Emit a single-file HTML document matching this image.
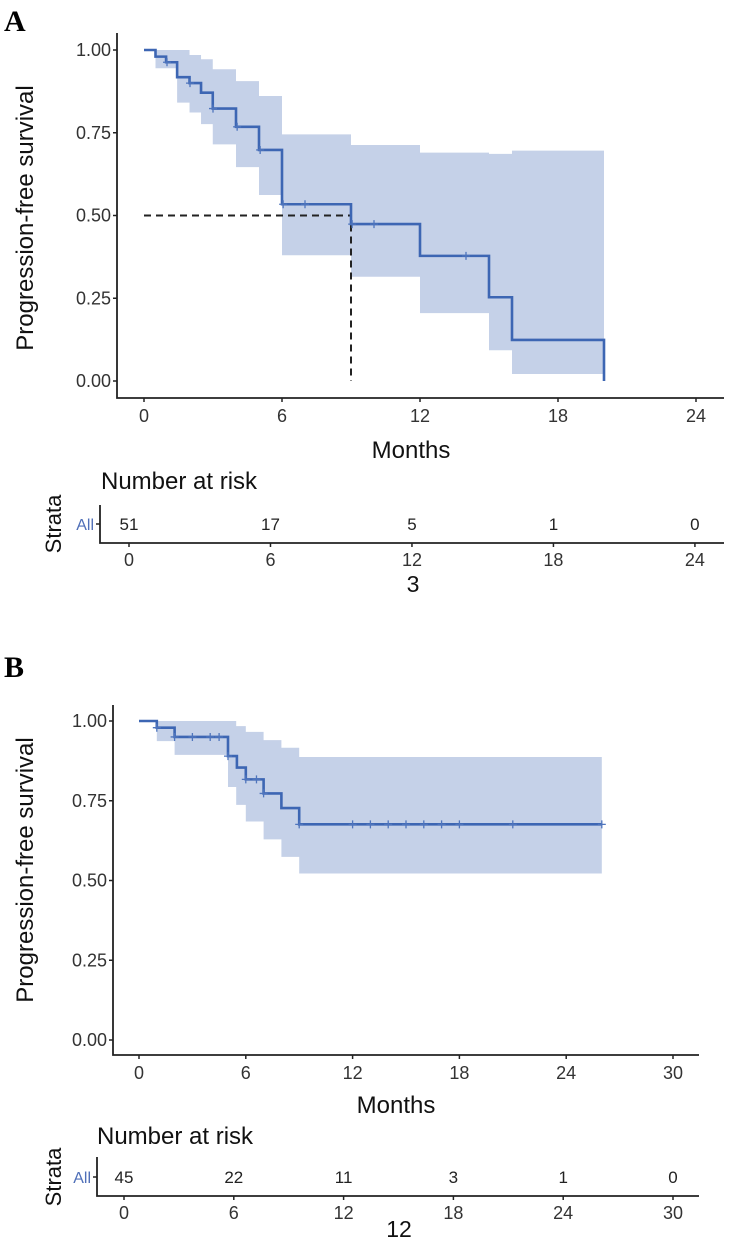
<!DOCTYPE html>
<html><head><meta charset="utf-8"><style>
html,body{margin:0;padding:0;background:#fff;}
svg{display:block;font-family:"Liberation Sans",sans-serif;}
</style></head><body>
<svg id="fig" width="735" height="1248" viewBox="0 0 735 1248">
<text x="4" y="31" font-family="Liberation Serif" font-weight="bold" font-size="30">A</text>
<text x="4" y="677" font-family="Liberation Serif" font-weight="bold" font-size="30">B</text>
</svg>
<script>
// Panel A data
const stepTimesA=[0,0.5,0.96,1.44,1.98,2.48,2.99,4.0,5.0,6.0,9.0,12.0,15.0,16.0];
const survA=[1,0.98,0.963,0.918,0.90,0.871,0.823,0.768,0.698,0.534,0.474,0.378,0.253,0.124];
const bandTimesA=[0,0.5,1.44,1.98,2.48,2.99,4,5,6,9,12,15,16];
const upperA=[1,1,1,0.985,0.972,0.942,0.906,0.861,0.745,0.713,0.690,0.686,0.696];
const lowerA=[1,0.945,0.841,0.811,0.776,0.715,0.646,0.562,0.380,0.315,0.205,0.093,0.021];
const censorA=[1.0,2.0,3.0,4.05,5.05,6.05,7.0,9.05,10.0,14.0];
const endA=20;
const xTicksA=[0,6,12,18,24];
const riskA=[51,17,5,1,0];
// Panel B data
const stepTimesB=[0,1,2,5,5.5,6,7,8,9];
const survB=[1,0.979,0.95,0.89,0.854,0.817,0.773,0.727,0.676];
const bandTimesB=[0,1,2,5,5.46,6,7,8,9];
const upperB=[1,1,1,1,0.984,0.966,0.94,0.916,0.887];
const lowerB=[1,0.937,0.894,0.793,0.737,0.685,0.629,0.574,0.522];
const censorB=[1,2,3,4,4.5,5,6,6.6,7,9,12,13,14,15,16,17,18,21,26];
const endB=26;
const xTicksB=[0,6,12,18,24,30];
const riskB=[45,22,11,3,1,0];
const yTicks=[0,0.25,0.5,0.75,1];
const yTickLabels=["0.00","0.25","0.50","0.75","1.00"];

const NS="http://www.w3.org/2000/svg";
const svg=document.getElementById('fig');
function mk(tag,attrs,parent){const e=document.createElementNS(NS,tag);for(const k in attrs)e.setAttribute(k,attrs[k]);(parent||svg).appendChild(e);return e;}
function stepAt(times,vals,t){let v=vals[0];for(let i=0;i<times.length;i++){if(times[i]<=t)v=vals[i];}return v;}

function panel(p){
  const g=mk('g',{});
  
  
  const X=m=>p.x0+m*p.px, Y=v=>p.y0-v*p.py;
  let up='',lo=[];
  for(let i=0;i<p.bt.length;i++){
    const a=p.bt[i],b=(i+1<p.bt.length)?p.bt[i+1]:p.end;
    up+=(i?'L':'M')+X(a)+','+Y(p.up[i])+'L'+X(b)+','+Y(p.up[i]);
    lo.unshift('L'+X(b)+','+Y(p.lo[i])+'L'+X(a)+','+Y(p.lo[i]));
  }
  const band=mk('path',{d:up+lo.join('')+'Z',fill:'#c5d1e8',stroke:'none'},g);
  
  
  if(p.median!=null){
    const dh=mk('path',{d:'M'+X(0)+','+Y(0.5)+'H'+X(p.median)+'V'+Y(0),fill:'none',stroke:'#222',"stroke-width":2,"stroke-dasharray":"7,5"},g);
    
    
  }
  let d='M'+X(0)+','+Y(p.sv[0]);
  for(let i=1;i<p.st.length;i++){d+='H'+X(p.st[i])+'V'+Y(p.sv[i]);}
  d+='H'+X(p.end);
  if(p.dropEnd)d+='V'+Y(0);
  const line=mk('path',{d:d,fill:'none',stroke:'#3d66b3',"stroke-width":2.6},g);
  
  
  p.cs.forEach(t=>{
    const v=stepAt(p.st,p.sv,t);
    const c=mk('path',{d:'M'+(X(t)-4)+','+Y(v)+'h8M'+X(t)+','+(Y(v)-4)+'v8',stroke:'#4f75bd',"stroke-width":1.3},g);
    
    
  });
  const ax=mk('path',{d:'M'+p.ax+','+p.atop+'V'+p.abot+'H'+p.aright,fill:'none',stroke:'#222',"stroke-width":1.8},g);
  
  
  yTicks.forEach((v,i)=>{
    mk('path',{d:'M'+(p.ax-4)+','+Y(v)+'H'+p.ax,stroke:'#222',"stroke-width":1.5},g);
    const t=mk('text',{x:p.ax-6,y:Y(v)+6,"text-anchor":"end","font-size":18,fill:'#333'},g);
    t.textContent=yTickLabels[i];
    
    
  });
  p.xt.forEach(m=>{
    mk('path',{d:'M'+X(m)+','+p.abot+'v4',stroke:'#222',"stroke-width":1.5},g);
    const t=mk('text',{x:X(m),y:p.abot+24,"text-anchor":"middle","font-size":18,fill:'#333'},g);
    t.textContent=m;
    
    
  });
  const yl=mk('text',{x:0,y:0,transform:'translate(33,'+p.ylc+') rotate(-90)',"text-anchor":"middle","font-size":24,fill:'#111'},g);
  yl.textContent='Progression-free survival';
  
  
  const xl=mk('text',{x:p.mx,y:p.my,"text-anchor":"middle","font-size":24,fill:'#111'},g);
  xl.textContent='Months';
  
  
  const R=m=>p.r0+m*p.rpx;
  const nt=mk('text',{x:p.nx,y:p.ny,"font-size":24,fill:'#111'},g);
  nt.textContent='Number at risk';
  
  
  mk('path',{d:'M'+p.rax+','+p.rtop+'V'+p.rbot+'H'+p.aright,fill:'none',stroke:'#222',"stroke-width":1.8},g);
  mk('path',{d:'M'+(p.rax-4)+','+p.ry+'H'+p.rax,stroke:'#222',"stroke-width":1.5},g);
  const st=mk('text',{x:0,y:0,transform:'translate(61,'+p.ry+') rotate(-90)',"text-anchor":"middle","font-size":22,fill:'#111'},g);
  st.textContent='Strata';
  
  
  const al=mk('text',{x:p.rax-6,y:p.ry+6,"text-anchor":"end","font-size":16,fill:'#4f6fb8'},g);
  al.textContent='All';
  
  
  p.xt.forEach((m,i)=>{
    const n=mk('text',{x:R(m),y:p.ry+6,"text-anchor":"middle","font-size":17,fill:'#222'},g);
    n.textContent=p.risk[i];
    
    
    mk('path',{d:'M'+R(m)+','+p.rbot+'v4',stroke:'#222',"stroke-width":1.5},g);
    const t=mk('text',{x:R(m),y:p.rbot+23,"text-anchor":"middle","font-size":18,fill:'#333'},g);
    t.textContent=m;
    
    
  });
  const bl=mk('text',{x:p.bx,y:p.by,"text-anchor":"middle","font-size":23,fill:'#111'},g);
  bl.textContent=p.blabel;
  
  
}

panel({id:'panel-a',x0:144,px:23,y0:381,py:331,st:stepTimesA,sv:survA,bt:bandTimesA,up:upperA,lo:lowerA,cs:censorA,end:endA,dropEnd:true,median:9,
  ax:117,atop:33,abot:398,aright:724,xt:xTicksA,ylc:218,mx:411,my:458,
  r0:129,rpx:23.58,nx:101,ny:489,rax:100,rtop:505,rbot:543,ry:524,risk:riskA,bx:413,by:592,blabel:'3'});
panel({id:'panel-b',x0:139,px:17.8,y0:1040,py:319,st:stepTimesB,sv:survB,bt:bandTimesB,up:upperB,lo:lowerB,cs:censorB,end:endB,dropEnd:false,median:null,
  ax:113,atop:705,abot:1055,aright:699,xt:xTicksB,ylc:870,mx:396,my:1113,
  r0:124,rpx:18.3,nx:97,ny:1144,rax:97,rtop:1157,rbot:1196,ry:1177,risk:riskB,bx:399,by:1237,blabel:'12'});
</script>
</body></html>
